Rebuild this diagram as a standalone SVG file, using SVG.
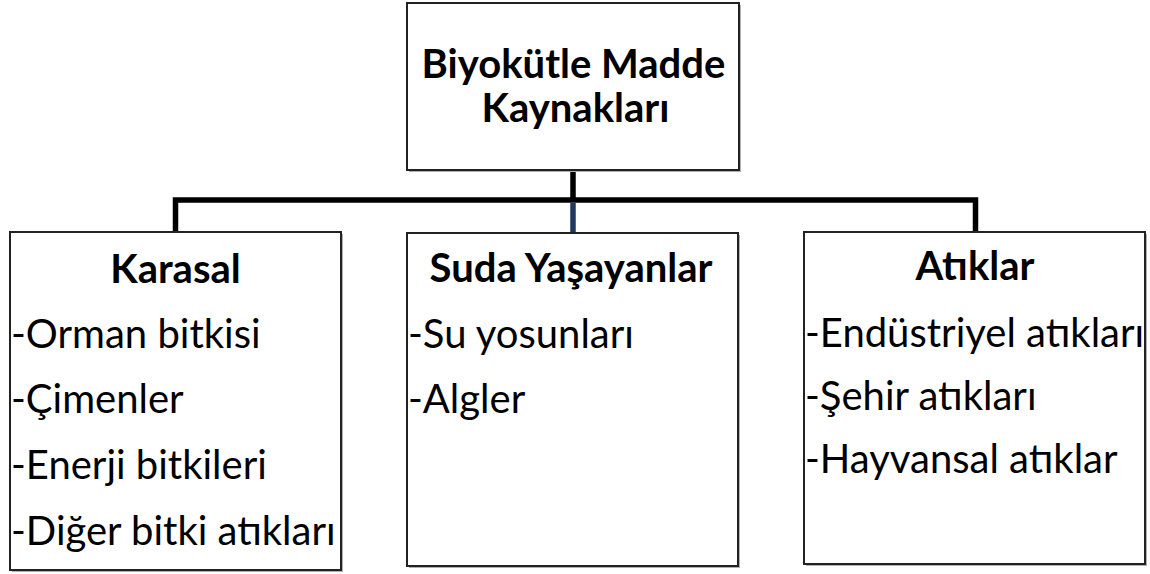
<svg xmlns="http://www.w3.org/2000/svg" width="1150" height="574" viewBox="0 0 1150 574">
<style>
.box{fill:#fff;stroke:#222;stroke-width:2}
.shadow{fill:#b0b0b0}
.t{font-family:Lato,"Open Sans","Liberation Sans",sans-serif;font-size:40px;fill:#000}
.b{font-weight:bold;text-anchor:middle}
.conn{fill:none;stroke:#000;stroke-width:5.5}
</style>
<rect width="1150" height="574" fill="#fff"/>
<g id="connectors">
<path class="conn" d="M175.5,232 V200 H975.5 V232"/>
<line class="conn" x1="573" y1="170" x2="573" y2="200"/>
<line x1="573" y1="203" x2="573" y2="233" stroke="#1f3a60" stroke-width="5.5"/>
</g>
<g id="root">
<rect class="shadow" x="409" y="5" width="332" height="167"/>
<rect class="box" x="407" y="3" width="332" height="167"/>
<text class="t b" x="573.5" y="78">Biyokütle Madde</text>
<text class="t b" x="575.5" y="122">Kaynakları</text>
</g>
<g id="karasal">
<rect class="shadow" x="12" y="234" width="331" height="338"/>
<rect class="box" x="10" y="232" width="331" height="338"/>
<text class="t b" x="175.5" y="283">Karasal</text>
<text class="t" x="11" y="348">-Orman bitkisi</text>
<text class="t" x="11" y="413">-Çimenler</text>
<text class="t" x="11" y="479">-Enerji bitkileri</text>
<text class="t" x="11" y="545">-Diğer bitki atıkları</text>
</g>
<g id="suda">
<rect class="shadow" x="409" y="235" width="331" height="333"/>
<rect class="box" x="407" y="233" width="331" height="333"/>
<text class="t b" x="571" y="282">Suda Yaşayanlar</text>
<text class="t" x="408" y="348">-Su yosunları</text>
<text class="t" x="408" y="413">-Algler</text>
</g>
<g id="atiklar">
<rect class="shadow" x="806" y="234" width="341" height="332"/>
<rect class="box" x="804" y="232" width="341" height="332"/>
<text class="t b" x="975" y="280">Atıklar</text>
<text class="t" x="805" y="347">-Endüstriyel atıkları</text>
<text class="t" x="805" y="410">-Şehir atıkları</text>
<text class="t" x="805" y="473">-Hayvansal atıklar</text>
</g>
</svg>
